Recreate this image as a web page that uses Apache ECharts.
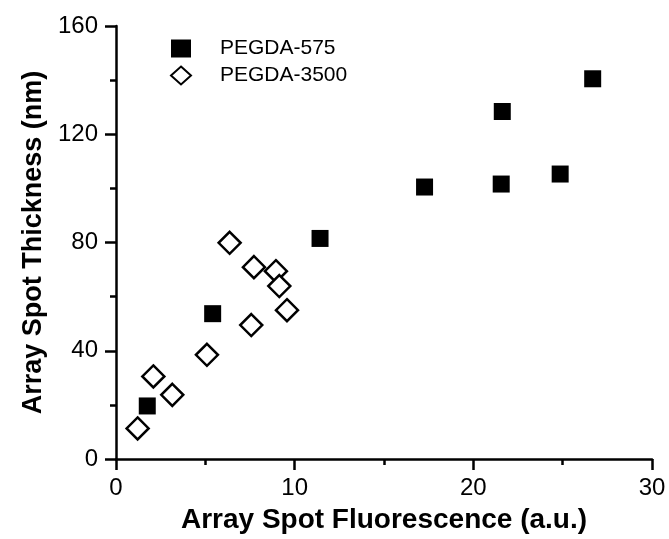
<!DOCTYPE html>
<html>
<head>
<meta charset="utf-8">
<script src="https://cdn.jsdelivr.net/npm/echarts@6/dist/echarts.min.js"></script>
<style>html,body{margin:0;padding:0;background:#fff}#c{width:669px;height:539px}</style>
</head>
<body>
<div id="c"></div>
<script>
var seriesNames = ['PEGDA-575', 'PEGDA-3500'];
var peg575X = [1.75, 5.41, 11.42, 17.27, 21.56, 21.62, 24.86, 26.68];
var peg575Y = [19.6, 53.7, 81.5, 100.5, 101.6, 128.4, 105.3, 140.5];
var peg3500X = [1.21, 2.09, 3.15, 5.09, 6.36, 7.72, 7.57, 8.95, 9.14, 9.57];
var peg3500Y = [11.3, 30.5, 23.7, 38.5, 79.9, 70.9, 49.5, 69.4, 63.9, 55.0];
var xTicks = [0, 10, 20, 30];
var yTicks = [0, 40, 80, 120, 160];
var xTitle = 'Array Spot Fluorescence (a.u.)';
var yTitle = 'Array Spot Thickness (nm)';

function zip(a, b) { return a.map(function (v, i) { return [v, b[i]]; }); }

var font = 'Arial, "Liberation Sans", sans-serif';
var chart = echarts.init(document.getElementById('c'));
chart.setOption({
  animation: false,
  backgroundColor: '#fff',
  grid: { left: 116, right: 17, top: 26, bottom: 79, containLabel: false },
  legend: {
    orient: 'vertical', left: 165, top: 31, itemGap: 2,
    itemWidth: 20, itemHeight: 18,
    textStyle: { fontFamily: font, fontSize: 21, lineHeight: 25, color: '#000', padding: [0, 0, 0, 24] },
    data: seriesNames
  },
  xAxis: {
    type: 'value', min: xTicks[0], max: xTicks[xTicks.length - 1], interval: 10,
    name: xTitle, nameLocation: 'middle', nameGap: 47,
    nameTextStyle: { fontFamily: font, fontSize: 28, fontWeight: 'bold', color: '#000' },
    axisLine: { onZero: false, lineStyle: { color: '#000', width: 2.5 } },
    axisTick: { show: true, inside: false, length: 11, lineStyle: { color: '#000', width: 2.5 } },
    minorTick: { show: true, splitNumber: 2, length: 6, lineStyle: { color: '#000', width: 2.5 } },
    axisLabel: { fontFamily: font, fontSize: 24, color: '#000', margin: 17 },
    splitLine: { show: false }
  },
  yAxis: {
    type: 'value', min: yTicks[0], max: yTicks[yTicks.length - 1], interval: 40,
    name: yTitle, nameLocation: 'middle', nameGap: 68,
    nameTextStyle: { fontFamily: font, fontSize: 27, fontWeight: 'bold', color: '#000' },
    axisLine: { show: true, onZero: false, lineStyle: { color: '#000', width: 2.5 } },
    axisTick: { show: true, inside: false, length: 11, lineStyle: { color: '#000', width: 2.5 } },
    minorTick: { show: true, splitNumber: 2, length: 6, lineStyle: { color: '#000', width: 2.5 } },
    axisLabel: { fontFamily: font, fontSize: 24, color: '#000', margin: 18 },
    splitLine: { show: false }
  },
  series: [
    {
      name: seriesNames[0], type: 'scatter', symbol: 'rect', symbolSize: 17,
      itemStyle: { color: '#000', borderWidth: 0, opacity: 1 },
      data: zip(peg575X, peg575Y)
    },
    {
      name: seriesNames[1], type: 'scatter', symbol: 'diamond', symbolSize: 22,
      itemStyle: { color: '#fff', borderColor: '#000', borderWidth: 2.5, opacity: 1 },
      data: zip(peg3500X, peg3500Y)
    }
  ]
});
</script>
</body>
</html>
